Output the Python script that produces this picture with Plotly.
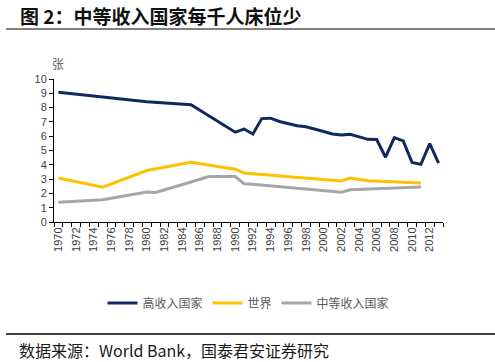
import plotly.graph_objects as go

# ---- data ----
high_years = [1970, 1975, 1980, 1985] + list(range(1990, 2014))
high_vals = [9.07, 8.74, 8.41, 8.20,
             6.28, 6.50, 6.15, 7.23, 7.26, 7.03, 6.87, 6.73, 6.66, 6.52,
             6.33, 6.15, 6.08, 6.13, 5.96, 5.78, 5.77, 4.53, 5.90, 5.67,
             4.16, 4.03, 5.48, 4.11]

world_years = [1970, 1975, 1980, 1981, 1985, 1990, 1991, 1992, 2002, 2003, 2004, 2005, 2011]
world_vals = [3.08, 2.43, 3.60, 3.72, 4.18, 3.69, 3.43, 3.38, 2.87, 3.08, 2.97, 2.89, 2.72]

mid_years = [1970, 1975, 1980, 1981, 1985, 1987, 1990, 1991, 1992, 2002, 2003, 2011]
mid_vals = [1.38, 1.55, 2.10, 2.06, 2.80, 3.18, 3.18, 2.67, 2.64, 2.08, 2.25, 2.44]

tick_years = list(range(1970, 2013, 2))
tick_labels = [str(y) for y in tick_years]

series_names = ["高收入国家", "世界", "中等收入国家"]
colors = ["#0E2A5C", "#FFC000", "#A6A6A6"]

fig = go.Figure()
for name, xs, ys, c in zip(series_names,
                           [high_years, world_years, mid_years],
                           [high_vals, world_vals, mid_vals], colors):
    fig.add_trace(go.Scatter(x=xs, y=ys, mode="lines", name=name,
                             line=dict(color=c, width=3)))

axis_font = dict(family="Liberation Sans, Arial, sans-serif", size=11, color="#404040")

fig.update_layout(
    width=495, height=362,
    margin=dict(l=54, r=52, t=79, b=140, autoexpand=False),
    paper_bgcolor="white", plot_bgcolor="white",
    showlegend=True,
    legend=dict(orientation="h", x=0.5, xanchor="center", y=-0.566, yanchor="middle",
                font=dict(family="Noto Sans CJK SC", size=12, color="#595959"),
                itemwidth=30, tracegroupgap=0),
    xaxis=dict(range=[1969.5, 2013.5], showgrid=False, zeroline=False,
               showline=True, linecolor="black", linewidth=1,
               tickmode="array", tickvals=tick_years, ticktext=tick_labels,
               ticks="", tickangle=-90, tickfont=axis_font,
               minor=dict(tickmode="array",
                          tickvals=[y + 0.5 for y in range(1969, 2014)],
                          ticks="outside", ticklen=4, tickcolor="black", showgrid=False)),
    yaxis=dict(range=[0, 10], dtick=1, showgrid=False, zeroline=False,
               showline=True, linecolor="black", linewidth=1,
               ticks="outside", ticklen=4, tickcolor="black", tickfont=axis_font),
)

# title
fig.add_annotation(xref="paper", yref="paper", x=(18 - 54) / 389, y=(79 - 15) / 143 + 1,
                   xanchor="left", yanchor="middle", showarrow=False,
                   text="<b>图 2：中等收入国家每千人床位少</b>",
                   font=dict(family="Noto Sans CJK SC", size=19, color="#111111"))
# unit
fig.add_annotation(xref="paper", yref="paper", x=(58 - 54) / 389, y=(79 - 64) / 143 + 1,
                   xanchor="center", yanchor="middle", showarrow=False,
                   text="张", font=dict(family="Noto Sans CJK SC", size=12, color="#595959"))
# source
fig.add_annotation(xref="paper", yref="paper", x=(17 - 54) / 389, y=(222 - 350) / 143,
                   xanchor="left", yanchor="middle", showarrow=False,
                   text="数据来源：World Bank，国泰君安证券研究",
                   font=dict(family="Noto Sans CJK SC", size=16, color="#1a1a1a"))

# separator lines
fig.add_shape(type="line", xref="paper", yref="paper",
              x0=(6 - 54) / 389, x1=(495 - 54) / 389,
              y0=(222 - 29) / 143, y1=(222 - 29) / 143,
              line=dict(color="#808080", width=2))
fig.add_shape(type="line", xref="paper", yref="paper",
              x0=(6 - 54) / 389, x1=(495 - 54) / 389,
              y0=(222 - 334) / 143, y1=(222 - 334) / 143,
              line=dict(color="#000000", width=1.5))

fig.write_html("out.html", config={"displayModeBar": False},
               post_script="document.body.style.margin='0';document.body.style.overflow='hidden';")
